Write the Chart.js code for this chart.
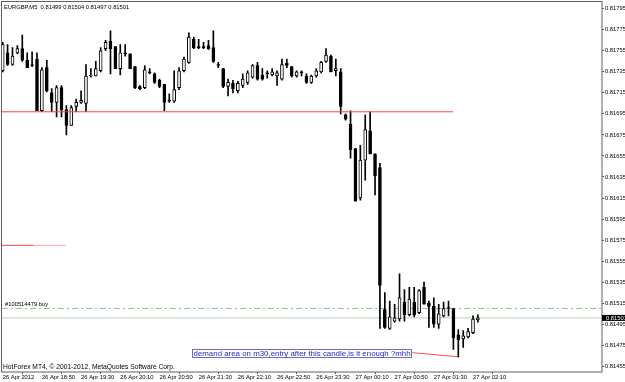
<!DOCTYPE html>
<html>
<head>
<meta charset="utf-8">
<script src="https://cdn.jsdelivr.net/npm/chart.js@4.4.1/dist/chart.umd.min.js"></script>
<style>
  html, body { margin: 0; padding: 0; background: #ffffff; }
  #chartBox { width: 625px; height: 382px; }
</style>
</head>
<body>
<div id="chartBox"><canvas id="myChart" width="625" height="382"></canvas></div>
<script>
// EURGBP M5, 26 Apr 2012 18:10 .. 27 Apr 2012 02:15, one bar every 5 minutes
var symbolTitle = 'EURGBP,M5';
var openP = [0.81736,0.81753,0.81742,0.81753,0.81757,0.81746,0.81741,0.81747,0.81698,0.81739,
  0.81715,0.81706,0.81720,0.81699,0.81684,0.81702,0.81706,0.81705,0.81731,0.81731,
  0.81736,0.81757,0.81764,0.81759,0.81738,0.81753,0.81752,0.81740,0.81721,0.81720,
  0.81735,0.81733,0.81727,0.81723,0.81708,0.81707,0.81720,0.81736,0.81744,0.81766,
  0.81759,0.81759,0.81760,0.81758,0.81742,0.81738,0.81721,0.81724,0.81717,0.81722,
  0.81725,0.81730,0.81741,0.81732,0.81733,0.81732,0.81731,0.81728,0.81743,0.81740,
  0.81731,0.81734,0.81731,0.81725,0.81731,0.81735,0.81745,0.81750,0.81736,0.81735,
  0.81694,0.81685,0.81662,0.81615,0.81651,0.81679,0.81657,0.81644,0.81509,0.81491,
  0.81498,0.81500,0.81516,0.81504,0.81516,0.81506,0.81530,0.81515,0.81512,0.81495,
  0.81503,0.81510,0.81510,0.81485,0.81481,0.81483,0.81487,0.81499];
var highP = [0.81763,0.81761,0.81758,0.81760,0.81770,0.81753,0.81754,0.81753,0.81739,0.81746,
  0.81719,0.81722,0.81722,0.81703,0.81703,0.81709,0.81717,0.81742,0.81738,0.81745,
  0.81758,0.81765,0.81774,0.81759,0.81761,0.81761,0.81752,0.81740,0.81722,0.81741,
  0.81738,0.81734,0.81728,0.81723,0.81714,0.81736,0.81739,0.81749,0.81772,0.81768,
  0.81766,0.81763,0.81765,0.81774,0.81744,0.81738,0.81728,0.81727,0.81726,0.81733,
  0.81736,0.81742,0.81744,0.81738,0.81736,0.81738,0.81736,0.81747,0.81747,0.81740,
  0.81736,0.81736,0.81733,0.81732,0.81738,0.81745,0.81757,0.81751,0.81747,0.81738,
  0.81695,0.81698,0.81662,0.81665,0.81694,0.81697,0.81657,0.81648,0.81525,0.81517,
  0.81514,0.81543,0.81528,0.81530,0.81530,0.81528,0.81535,0.81517,0.81520,0.81514,
  0.81516,0.81517,0.81510,0.81490,0.81489,0.81491,0.81503,0.81504];
var lowP = [0.81735,0.81741,0.81741,0.81752,0.81745,0.81739,0.81740,0.81698,0.81697,0.81716,
  0.81697,0.81692,0.81692,0.81675,0.81684,0.81697,0.81705,0.81697,0.81730,0.81731,
  0.81735,0.81755,0.81733,0.81738,0.81732,0.81750,0.81738,0.81719,0.81718,0.81719,
  0.81733,0.81724,0.81720,0.81698,0.81706,0.81706,0.81718,0.81735,0.81743,0.81757,
  0.81757,0.81757,0.81756,0.81744,0.81739,0.81720,0.81712,0.81715,0.81715,0.81720,
  0.81723,0.81729,0.81727,0.81727,0.81729,0.81731,0.81722,0.81727,0.81739,0.81730,
  0.81730,0.81731,0.81724,0.81724,0.81730,0.81734,0.81744,0.81735,0.81731,0.81695,
  0.81689,0.81653,0.81612,0.81613,0.81632,0.81657,0.81618,0.81491,0.81491,0.81490,
  0.81497,0.81498,0.81498,0.81503,0.81502,0.81505,0.81514,0.81492,0.81492,0.81491,
  0.81502,0.81503,0.81471,0.81464,0.81473,0.81482,0.81486,0.81497];
var closeP = [0.81761,0.81742,0.81750,0.81757,0.81746,0.81739,0.81741,0.81698,0.81737,0.81717,
  0.81706,0.81720,0.81699,0.81684,0.81701,0.81706,0.81708,0.81731,0.81732,0.81738,
  0.81755,0.81763,0.81757,0.81738,0.81753,0.81752,0.81738,0.81720,0.81719,0.81737,
  0.81734,0.81725,0.81721,0.81706,0.81707,0.81718,0.81736,0.81747,0.81768,0.81758,
  0.81758,0.81758,0.81757,0.81745,0.81741,0.81721,0.81725,0.81719,0.81724,0.81728,
  0.81734,0.81741,0.81728,0.81728,0.81733,0.81735,0.81734,0.81742,0.81741,0.81731,
  0.81735,0.81734,0.81725,0.81731,0.81736,0.81744,0.81751,0.81735,0.81738,0.81702,
  0.81690,0.81661,0.81612,0.81651,0.81680,0.81657,0.81636,0.81532,0.81492,0.81502,
  0.81501,0.81520,0.81504,0.81519,0.81504,0.81527,0.81514,0.81512,0.81495,0.81505,
  0.81510,0.81510,0.81482,0.81480,0.81484,0.81488,0.81500,0.81501];

// axis ticks
var priceTicks = [0.81455,0.81475,0.81495,0.81515,0.81535,0.81555,0.81575,0.81595,0.81615,
  0.81635,0.81655,0.81675,0.81695,0.81715,0.81735,0.81755,0.81775,0.81795];
var timeTickBars = [0, 8, 16, 24, 32, 40, 48, 56, 64, 72, 80, 88, 96];
var timeTickLabels = ['26 Apr 2012','26 Apr 18:50','26 Apr 19:30','26 Apr 20:10','26 Apr 20:50',
  '26 Apr 21:30','26 Apr 22:10','26 Apr 22:50','26 Apr 23:30','27 Apr 00:10','27 Apr 00:50',
  '27 Apr 01:30','27 Apr 02:10'];

// objects drawn on the chart (bar index, price)
var levelLong = 0.81697,   levelLongEnd = 91.9;
var levelShort = 0.81570,  levelShortEnd = 12.9, levelShortMid = 6.3;
var orderPrice = 0.81510,  orderLabel = '#100514479 buy';
var trendFrom = [83.6, 0.81468], trendTo = [93.1, 0.81464];
var noteAnchor = [38.6, 0.81468];
var noteText = 'demand area on m30,entry after this candle,is it enough ?mhh';
var copyright = 'HotForex MT4, \u00a9 2001-2012, MetaQuotes Software Corp.';

var xMin = -0.143, xMax = 122.33;
var lastIdx = closeP.length - 1;
var fnt = 'Liberation Sans, Arial, sans-serif';

var wicks = [], bodies = [], bodyFill = [];
for (var i = 0; i < closeP.length; i++) {
  wicks.push({ x: i, y: [lowP[i], highP[i]] });
  bodies.push({ x: i, y: [openP[i], closeP[i]] });
  bodyFill.push(closeP[i] > openP[i] ? '#ffffff' : '#000000');
}

function hline(price, from, to) {
  return [{ x: from, y: price }, { x: to, y: price }];
}

var mtOverlay = {
  id: 'mtOverlay',
  afterDraw: function(chart) {
    var c = chart.ctx, a = chart.chartArea;
    var xs = chart.scales.x, ys = chart.scales.y;
    c.save();
    // frame
    c.strokeStyle = '#606060';
    c.lineWidth = 1;
    c.strokeRect(1.5, 1.5, a.right - 1.5, a.bottom - 1.5);

    c.textBaseline = 'middle';
    c.textAlign = 'left';
    c.fillStyle = '#000000';
    c.font = '5.8px ' + fnt;
    var last = lastIdx;
    c.fillText(symbolTitle + '  ' + openP[last].toFixed(5) + ' ' + highP[last].toFixed(5) + ' ' +
      lowP[last].toFixed(5) + ' ' + closeP[last].toFixed(5), 4, 7);

    c.font = '6.7px ' + fnt;
    c.fillText(copyright, 3, a.bottom - 4.5);

    c.font = '5.8px ' + fnt;
    c.fillText(orderLabel, 5, ys.getPixelForValue(orderPrice) - 4.5);

    // note box
    var nx = Math.round(xs.getPixelForValue(noteAnchor[0])), ny = Math.round(ys.getPixelForValue(noteAnchor[1]));
    c.font = '7.9px ' + fnt;
    var w = c.measureText(noteText).width;
    c.fillStyle = '#ffffff';
    c.fillRect(nx, ny - 4, w + 3, 8);
    c.strokeStyle = '#6b6bd0';
    c.strokeRect(nx + 0.5, ny - 4 + 0.5, Math.round(w + 2), 8);
    c.fillStyle = '#2b2ba8';
    c.fillText(noteText, nx + 1.5, ny + 0.5);

    // current price marker
    var py = ys.getPixelForValue(closeP[last]);
    c.fillStyle = '#000000';
    c.fillRect(a.right, py - 3, 23, 6);
    c.fillStyle = '#ffffff';
    c.font = '5.8px ' + fnt;
    c.fillText(closeP[last].toFixed(5), a.right + 4, py + 0.3);
    c.restore();
  }
};

var ctx = document.getElementById('myChart').getContext('2d');
var myChart = new Chart(ctx, {
  data: {
    datasets: [
      { type: 'bar', label: 'bodies', data: bodies, backgroundColor: bodyFill,
        borderColor: '#000000', borderWidth: 1, borderSkipped: false, barThickness: 3,
        minBarLength: 1, grouped: false, order: 1 },
      { type: 'bar', label: 'wicks', data: wicks, backgroundColor: '#000000',
        borderWidth: 0, barThickness: 1, grouped: false, order: 2 },
      { type: 'line', label: 'close', data: hline(closeP[lastIdx], xMin, xMax),
        borderColor: '#c8c8c8', borderWidth: 1, pointRadius: 0, order: 5 },
      { type: 'line', label: 'order', data: hline(orderPrice, xMin, xMax),
        borderColor: '#80c880', borderWidth: 1, borderDash: [6, 3, 2, 3], pointRadius: 0, order: 5 },
      { type: 'line', label: 'level', data: hline(levelLong, xMin, levelLongEnd),
        borderColor: '#ff4040', borderWidth: 1, pointRadius: 0, order: 0 },
      { type: 'line', label: 'level2', data: hline(levelShort, xMin, levelShortMid),
        borderColor: '#ff4a4a', borderWidth: 1, pointRadius: 0, order: 4 },
      { type: 'line', label: 'level2b', data: hline(levelShort, levelShortMid, levelShortEnd),
        borderColor: '#ffa8a8', borderWidth: 1, pointRadius: 0, order: 4 },
      { type: 'line', label: 'trend', data: [{ x: trendFrom[0], y: trendFrom[1] }, { x: trendTo[0], y: trendTo[1] }],
        borderColor: '#ff4a4a', borderWidth: 1, pointRadius: 0, order: 4 }
    ]
  },
  options: {
    responsive: false,
    animation: false,
    devicePixelRatio: 1,
    layout: { padding: { left: 2, top: 2, right: 0, bottom: 0 } },
    plugins: { legend: { display: false }, tooltip: { enabled: false } },
    scales: {
      x: {
        type: 'linear', min: xMin, max: xMax, offset: false,
        grid: { drawOnChartArea: false, drawTicks: true, tickLength: 2, color: '#606060' },
        border: { display: false },
        afterBuildTicks: function(s) { s.ticks = timeTickBars.map(function(v) { return { value: v }; }); },
        afterFit: function(s) { s.height = 10; },
        ticks: {
          autoSkip: false, maxRotation: 0, align: 'start', padding: 0,
          color: '#000000', font: { family: fnt, size: 5.8 },
          callback: function(v, idx) { return timeTickLabels[idx]; }
        }
      },
      y: {
        position: 'right', min: 0.8144958, max: 0.8179903,
        grid: { drawOnChartArea: false, drawTicks: true, tickLength: 2, color: '#606060' },
        border: { display: false },
        afterBuildTicks: function(s) { s.ticks = priceTicks.map(function(v) { return { value: v }; }); },
        afterFit: function(s) { s.width = 23; },
        ticks: {
          padding: 1, color: '#000000', font: { family: fnt, size: 5.8 },
          callback: function(v) { return v.toFixed(5); }
        }
      }
    }
  },
  plugins: [mtOverlay]
});
</script>
</body>
</html>
